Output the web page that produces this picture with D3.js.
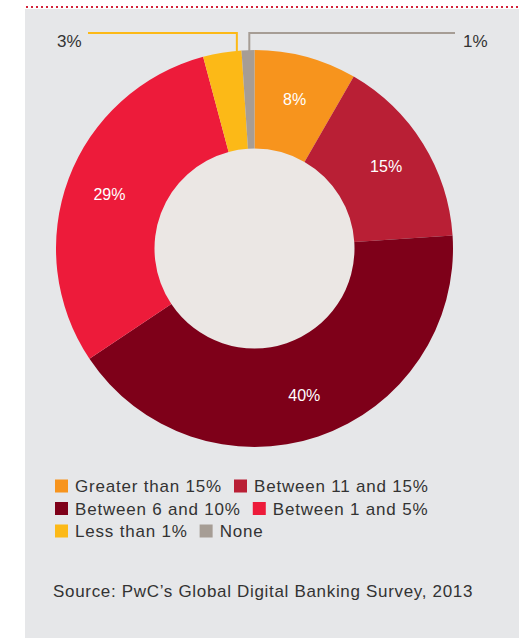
<!DOCTYPE html>
<html>
<head>
<meta charset="utf-8">
<script src="https://cdn.jsdelivr.net/npm/d3@7"></script>
<style>
  body { margin: 0; background: #fff; }
  text { font-family: "Liberation Sans", Arial, sans-serif; }
</style>
</head>
<body>
<svg width="526" height="638"></svg>
<script>
let width = 526;
let height = 638;

// data, clockwise from 12 o'clock
let categories = ['Greater than 15%', 'Between 11 and 15%', 'Between 6 and 10%', 'Between 1 and 5%', 'Less than 1%', 'None'];
let values = [8, 15, 40, 29, 3, 1];
let colors = ['#f7941d', '#b91f35', '#7e0019', '#ed1b3a', '#fcb917', '#a69d95'];
let legendRows = [[0, 1], [2, 3], [4, 5]];
let source = 'Source: PwC\u2019s Global Digital Banking Survey, 2013';

let svg = d3.select('svg');

// panel
svg.append('rect')
  .attr('x', 25)
  .attr('y', 9)
  .attr('width', 494)
  .attr('height', height - 9)
  .attr('fill', '#e6e7e9');

svg.append('line')
  .attr('x1', 26)
  .attr('x2', 519)
  .attr('y1', 7)
  .attr('y2', 7)
  .attr('stroke', '#d42339')
  .attr('stroke-width', 2)
  .attr('stroke-dasharray', '2,3');

let cx = 254.5, cy = 248.5;
let outer = 198.5, inner = 100;

let data = categories.map((c, i) => ({name: c, value: values[i], color: colors[i]}));

let pie = d3.pie().sort(null).value(d => d.value);
let arcs = pie(data);
let arc = d3.arc().innerRadius(inner).outerRadius(outer);
let labelArc = d3.arc().innerRadius(155).outerRadius(155);

let g = svg.append('g').attr('transform', `translate(${cx},${cy})`);

g.append('circle')
  .attr('r', inner)
  .attr('fill', '#ebe7e4');

g.selectAll('path')
  .data(arcs)
  .enter()
    .append('path')
    .attr('d', arc)
    .attr('fill', d => d.data.color);

// inside labels for the big slices
g.selectAll('text.inlabel')
  .data(arcs.filter(d => d.data.value >= 5))
  .enter()
    .append('text')
    .attr('class', 'inlabel')
    .attr('transform', d => `translate(${labelArc.centroid(d)})`)
    .attr('dy', '0.36em')
    .attr('text-anchor', 'middle')
    .attr('fill', '#fff')
    .attr('font-size', 16)
    .text(d => d.data.value + '%');

// leader lines for the two small slices
let small = [
  {d: arcs[4], frac: 0.88, lineY: -215.5, endX: -166.5, textX: -197.5},
  {d: arcs[5], frac: 0.6, lineY: -215.5, endX: 200.5, textX: 208.5}
];
small.forEach(s => {
  let a = s.d.startAngle + s.frac * (s.d.endAngle - s.d.startAngle);
  let px = outer * Math.sin(a);
  let py = -outer * Math.cos(a);
  g.append('polyline')
    .attr('points', [[px, py + 2], [px, s.lineY], [s.endX, s.lineY]].map(p => p.join(',')).join(' '))
    .attr('fill', 'none')
    .attr('stroke', s.d.data.color)
    .attr('stroke-width', 2);
  g.append('text')
    .attr('x', s.textX)
    .attr('y', s.lineY + 14)
    .attr('fill', '#333')
    .attr('font-size', 17)
    .text(s.d.data.value + '%');
});

// legend, flowed row by row
let legend = svg.append('g');
legendRows.forEach((row, r) => {
  let x = 55;
  let y = 486 + r * 22.5;
  row.forEach(i => {
    legend.append('rect')
      .attr('x', x)
      .attr('y', y - 6.5)
      .attr('width', 13)
      .attr('height', 13)
      .attr('fill', colors[i]);
    let t = legend.append('text')
      .attr('x', x + 20)
      .attr('y', y + 6)
      .attr('fill', '#333')
      .attr('font-size', 17)
      .attr('letter-spacing', 0.8)
      .text(categories[i]);
    x += 20 + t.node().getComputedTextLength() + 12;
  });
});

svg.append('text')
  .attr('x', 53)
  .attr('y', 597)
  .attr('fill', '#333')
  .attr('font-size', 17)
  .attr('letter-spacing', 0.68)
  .text(source);
</script>
</body>
</html>
